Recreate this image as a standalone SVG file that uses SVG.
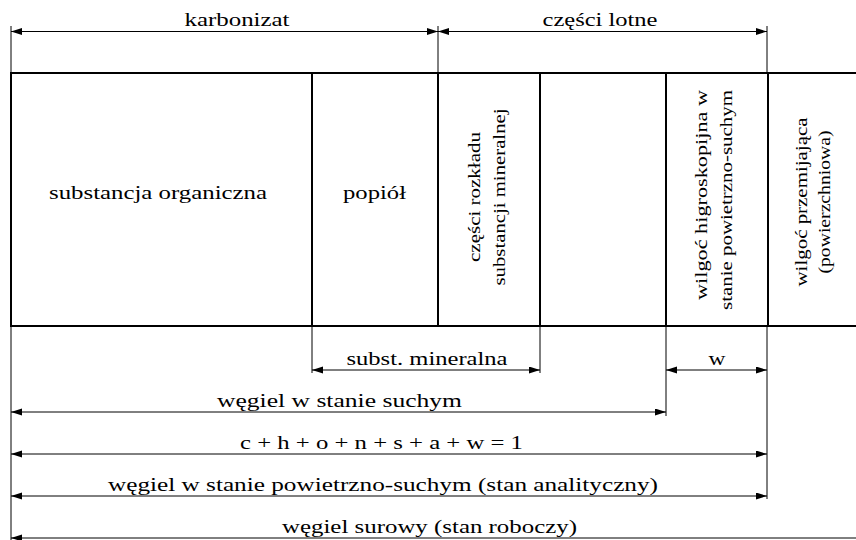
<svg xmlns="http://www.w3.org/2000/svg" width="856" height="540" viewBox="0 0 856 540">
<defs>
<marker id="ah" markerUnits="userSpaceOnUse" markerWidth="12" markerHeight="8" refX="11" refY="3.5" orient="auto-start-reverse">
<path d="M0,0 L11,3.5 L0,7 z" fill="#000"/>
</marker>
<style>
text{font-family:"Liberation Serif","Times New Roman",Tinos,"Noto Serif","DejaVu Serif",FreeSerif,"Nimbus Roman",serif;fill:#000;text-anchor:middle}
.t{font-size:19px}
.r{font-size:17px}
.box{fill:none;stroke:#000;stroke-width:2}
.ext{fill:none;stroke:#000;stroke-width:1}
.dim{fill:none;stroke:#000;stroke-width:1;marker-start:url(#ah);marker-end:url(#ah)}
</style>
</defs>
<rect width="856" height="540" fill="#fff"/>

<g id="frame">
<rect class="box" x="11" y="73" width="900" height="253"/>
</g>

<g id="organic">
<text class="t" x="158" y="199" textLength="218" lengthAdjust="spacingAndGlyphs">substancja organiczna</text>
</g>
<g id="ash">
<line class="box" x1="312" y1="73" x2="312" y2="326"/>
<text class="t" x="374.5" y="199" textLength="63" lengthAdjust="spacingAndGlyphs">popiół</text>
</g>
<g id="decomp">
<line class="box" x1="438" y1="73" x2="438" y2="326"/>
<text class="r" transform="translate(480,197) rotate(-90)" textLength="130" lengthAdjust="spacingAndGlyphs">części rozkładu</text>
<text class="r" transform="translate(505,197) rotate(-90)" textLength="177" lengthAdjust="spacingAndGlyphs">substancji mineralnej</text>
</g>
<g id="empty">
<line class="box" x1="540" y1="73" x2="540" y2="326"/>
</g>
<g id="hygro">
<line class="box" x1="666" y1="73" x2="666" y2="326"/>
<text class="r" transform="translate(707,195) rotate(-90)" textLength="210" lengthAdjust="spacingAndGlyphs">wilgoć higroskopijna w</text>
<text class="r" transform="translate(732,200) rotate(-90)" textLength="220" lengthAdjust="spacingAndGlyphs">stanie powietrzno-suchym</text>
</g>
<g id="transient">
<line class="box" x1="768" y1="73" x2="768" y2="326"/>
<text class="r" transform="translate(807,202) rotate(-90)" textLength="169" lengthAdjust="spacingAndGlyphs">wilgoć przemijająca</text>
<text class="r" transform="translate(830,202) rotate(-90)" textLength="143" lengthAdjust="spacingAndGlyphs">(powierzchniowa)</text>
</g>

<g id="connectors">
<line class="ext" x1="11" y1="26" x2="11" y2="73"/>
<line class="ext" x1="438" y1="26" x2="438" y2="73"/>
<line class="ext" x1="767" y1="26" x2="767" y2="73"/>
<line class="ext" x1="11" y1="326" x2="11" y2="540"/>
<line class="ext" x1="312" y1="326" x2="312" y2="373"/>
<line class="ext" x1="540" y1="326" x2="540" y2="373"/>
<line class="ext" x1="666" y1="326" x2="666" y2="416"/>
<line class="ext" x1="767" y1="326" x2="767" y2="499"/>

<line class="dim" x1="11" y1="31.5" x2="438" y2="31.5"/>
<line class="dim" x1="438" y1="31.5" x2="767" y2="31.5"/>
<line class="dim" x1="312" y1="370" x2="540" y2="370"/>
<line class="dim" x1="666" y1="370" x2="767" y2="370"/>
<line class="dim" x1="11" y1="412" x2="666" y2="412"/>
<line class="dim" x1="11" y1="454" x2="767" y2="454"/>
<line class="dim" x1="11" y1="496" x2="767" y2="496"/>
<line class="ext" x1="11" y1="538" x2="856" y2="538" marker-start="url(#ah)"/>
</g>

<g id="labels">
<text class="t" x="237" y="26" font-size="20" textLength="105" lengthAdjust="spacingAndGlyphs">karbonizat</text>
<text class="t" x="600" y="26" textLength="115" lengthAdjust="spacingAndGlyphs">części lotne</text>
<text class="t" x="427" y="365" textLength="161" lengthAdjust="spacingAndGlyphs">subst. mineralna</text>
<text class="t" x="717" y="365" textLength="17" lengthAdjust="spacingAndGlyphs">w</text>
<text class="t" x="339.5" y="407" textLength="245" lengthAdjust="spacingAndGlyphs">węgiel w stanie suchym</text>
<text class="t" x="381.5" y="449" textLength="283" lengthAdjust="spacingAndGlyphs">c + h + o + n + s + a + w = 1</text>
<text class="t" x="383" y="491" textLength="550" lengthAdjust="spacingAndGlyphs">węgiel w stanie powietrzno-suchym (stan analityczny)</text>
<text class="t" x="429.5" y="533" textLength="295" lengthAdjust="spacingAndGlyphs">węgiel surowy (stan roboczy)</text>
</g>
</svg>
